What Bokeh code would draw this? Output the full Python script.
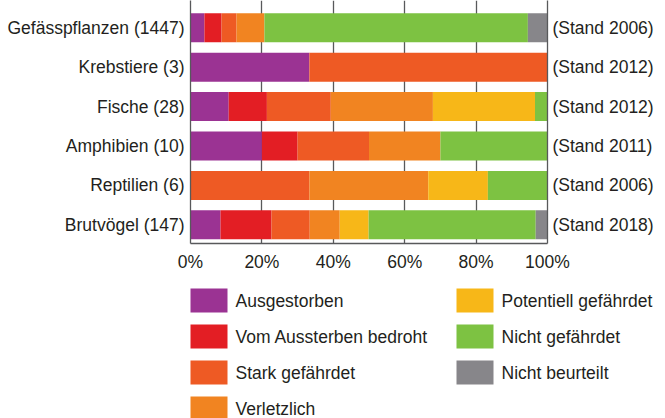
from bokeh.plotting import figure
from bokeh.layouts import column
from bokeh.models import (Range1d, LinearAxis, FixedTicker, PrintfTickFormatter,
                          ColumnDataSource)
from bokeh.core.properties import value
from bokeh.embed import file_html
from bokeh.resources import INLINE

# ---- data (percent of assessed species) ----
groups = ["Gefässpflanzen (1447)", "Krebstiere (3)", "Fische (28)",
          "Amphibien (10)", "Reptilien (6)", "Brutvögel (147)"]
stand = ["(Stand 2006)", "(Stand 2012)", "(Stand 2012)",
         "(Stand 2011)", "(Stand 2006)", "(Stand 2018)"]
status = ["Ausgestorben", "Vom Aussterben bedroht", "Stark gefährdet", "Verletzlich",
          "Potentiell gefährdet", "Nicht gefährdet", "Nicht beurteilt"]
colors = ["#9b3393", "#e31e24", "#ee5a24", "#f18421", "#f7b718", "#7dc242", "#87868a"]

ausgestorben = [3.9, 33.3, 10.7, 20.0, 0.0, 8.4]
vom_aussterben_bedroht = [4.8, 0.0, 10.7, 10.0, 0.0, 14.3]
stark_gefaehrdet = [4.2, 66.7, 17.9, 20.0, 33.3, 10.7]
verletzlich = [7.8, 0.0, 28.6, 20.0, 33.3, 8.4]
potentiell_gefaehrdet = [0.0, 0.0, 28.6, 0.0, 16.7, 8.1]
nicht_gefaehrdet = [73.8, 0.0, 3.5, 30.0, 16.7, 46.8]
nicht_beurteilt = [5.5, 0.0, 0.0, 0.0, 0.0, 3.3]

x_ticks = [0, 20, 40, 60, 80, 100]

series = [ausgestorben, vom_aussterben_bedroht, stark_gefaehrdet, verletzlich,
          potentiell_gefaehrdet, nicht_gefaehrdet, nicht_beurteilt]
keys = [f"k{i}" for i in range(len(series))]
rows = list(range(len(groups)))          # row index, top to bottom
data = {"row": rows}
for k, s in zip(keys, series):
    data[k] = s
source = ColumnDataSource(data)

FONT = "Liberation Sans"
FS = "17.5px"
TXT = "#231f20"
GRID = "#58595b"

W = 665
p = figure(width=W, height=276, output_backend="svg", toolbar_location=None,
           x_range=Range1d(0, 100), y_range=Range1d(5.475, -0.693),
           min_border_left=190, min_border_right=118, min_border_top=0,
           min_border_bottom=33, frame_align=False)
p.outline_line_color = None

p.hbar_stack(keys, y="row", height=0.736, color=colors, line_color=None, source=source)

# x axis
p.xaxis.ticker = FixedTicker(ticks=x_ticks)
p.xaxis.formatter = PrintfTickFormatter(format="%d%%")
p.xaxis.major_tick_out = 0
p.xaxis.major_tick_in = 0
p.xaxis.minor_tick_line_color = None
p.xaxis.axis_line_color = GRID
p.xaxis.axis_line_width = 1.3
p.xaxis.major_label_standoff = 8
p.xaxis.major_label_text_font = FONT
p.xaxis.major_label_text_font_size = FS
p.xaxis.major_label_text_color = TXT

# left axis: group names
p.yaxis.ticker = FixedTicker(ticks=rows)
p.yaxis.major_label_overrides = {r: g for r, g in zip(rows, groups)}
p.yaxis.major_tick_out = 0
p.yaxis.major_tick_in = 0
p.yaxis.minor_tick_line_color = None
p.yaxis.axis_line_color = GRID
p.yaxis.axis_line_width = 1.3
p.yaxis.major_label_standoff = 6
p.yaxis.major_label_text_font = FONT
p.yaxis.major_label_text_font_size = FS
p.yaxis.major_label_text_color = TXT

# right axis: "Stand" labels
right = LinearAxis(ticker=FixedTicker(ticks=rows),
                   major_label_overrides={r: s for r, s in zip(rows, stand)},
                   major_tick_out=0, major_tick_in=0, minor_tick_line_color=None,
                   axis_line_color=GRID, axis_line_width=1.3,
                   major_label_standoff=5,
                   major_label_text_font=FONT,
                   major_label_text_font_size=FS,
                   major_label_text_color=TXT)
p.add_layout(right, "right")

# grid
p.ygrid.grid_line_color = None
p.xgrid.grid_line_color = GRID
p.xgrid.grid_line_width = 1.3
p.xgrid.ticker = FixedTicker(ticks=x_ticks)

# ---- legend panel (pixel coordinates, y downwards) ----
LH = 142
lg = figure(width=W, height=LH, output_backend="svg", toolbar_location=None,
            x_range=Range1d(0, W), y_range=Range1d(LH, 0),
            x_axis_location=None, y_axis_location=None,
            min_border_left=0, min_border_right=0, min_border_top=0, min_border_bottom=0,
            frame_align=False)
lg.outline_line_color = None
lg.xgrid.grid_line_color = None
lg.ygrid.grid_line_color = None

n_rows = 4
col_left = [190, 456]
row_step = 36
first_row = 24
sw_w, sw_h = 37, 24
idx = list(range(len(status)))
leg = ColumnDataSource(dict(
    x=[col_left[i // n_rows] + sw_w / 2 for i in idx],
    y=[first_row + row_step * (i % n_rows) for i in idx],
    tx=[col_left[i // n_rows] + 45 for i in idx],
    label=status, color=colors))
lg.rect(x="x", y="y", width=sw_w, height=sw_h, fill_color="color", line_color=None, source=leg)
lg.text(x="tx", y="y", text="label", text_baseline="middle", text_align="left",
        text_font=value(FONT), text_font_size=FS, text_color=TXT, source=leg)

layout = column(p, lg, spacing=0)
open("out.html", "w").write(file_html(layout, INLINE))
